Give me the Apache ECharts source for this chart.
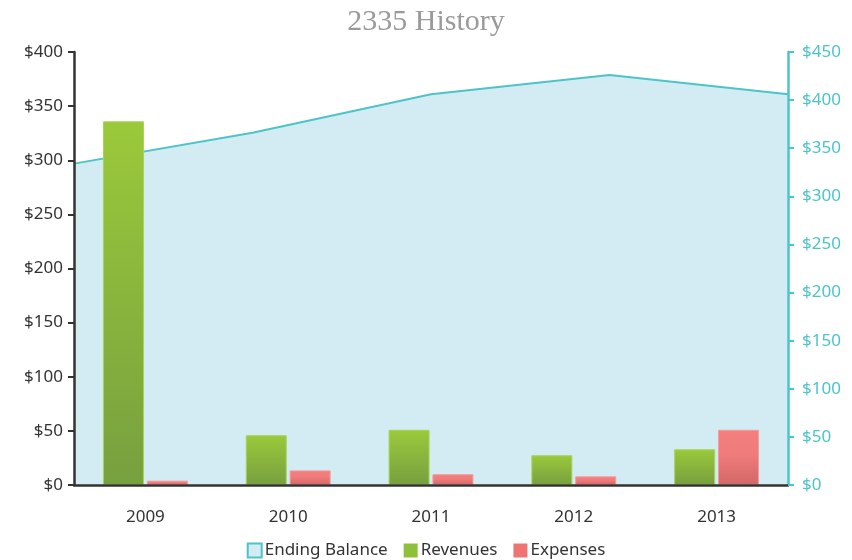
<!DOCTYPE html>
<html>
<head>
<meta charset="utf-8">
<script src="https://cdn.jsdelivr.net/npm/echarts@6/dist/echarts.min.js"></script>
<style>
  html, body { margin: 0; padding: 0; background: #fff; }
  #chart { width: 852px; height: 560px; }
</style>
</head>
<body>
<div id="chart"></div>
<script>
const years = ['2009', '2010', '2011', '2012', '2013']
const revenues = [336, 46, 51, 27.5, 33]
const expenses = [4, 13.5, 10, 8, 51]
const endingBalance = [334, 366, 406, 426, 406]

const teal = '#4cc4c8'
const dark = '#333333'

function money(v) {
    return '$' + v
}

let chart = echarts.init(document.getElementById('chart'))

let option = {
    animation: false,
    title: {
        text: '2335 History',
        left: 'center',
        top: 2,
        textStyle: {
            fontFamily: 'Liberation Serif',
            fontWeight: 'normal',
            fontSize: 30,
            color: '#9a9a9a'
        }
    },
    legend: {
        bottom: -4,
        left: 'center',
        itemWidth: 14,
        itemHeight: 14,
        itemGap: 16,
        textStyle: { fontFamily: 'Noto Sans', fontSize: 17, color: dark, padding: [0, 0, 0, -2] },
        data: [
            { name: 'Ending Balance', icon: 'rect', itemStyle: { color: '#d3ecf3', borderColor: teal, borderWidth: 2 } },
            { name: 'Revenues', icon: 'rect', itemStyle: { color: '#8fc03a', borderWidth: 0 } },
            { name: 'Expenses', icon: 'rect', itemStyle: { color: '#ee7474', borderWidth: 0 } }
        ]
    },
    grid: { left: 74, right: 64, top: 52, bottom: 75 },
    xAxis: [
        {
            type: 'category',
            data: years,
            z: 10,
            axisLine: { lineStyle: { color: dark, width: 2.5 } },
            axisTick: { show: false },
            axisLabel: { fontFamily: 'Noto Sans', fontSize: 17, color: dark, margin: 24 }
        },
        {
            type: 'category',
            data: years,
            boundaryGap: false,
            position: 'top',
            show: false
        }
    ],
    yAxis: [
        {
            type: 'value',
            min: 0,
            max: 400,
            interval: 50,
            z: 10,
            axisLine: { show: true, lineStyle: { color: dark, width: 2.5 } },
            axisTick: { show: true, length: 6, lineStyle: { color: dark, width: 2 } },
            splitLine: { show: false },
            axisLabel: { fontFamily: 'Noto Sans', fontSize: 17, color: dark, margin: 11, formatter: money }
        },
        {
            type: 'value',
            min: 0,
            max: 450,
            interval: 50,
            position: 'right',
            z: 10,
            axisLine: { show: true, lineStyle: { color: teal, width: 2.5 } },
            axisTick: { show: true, length: 6, lineStyle: { color: teal, width: 2 } },
            splitLine: { show: false },
            axisLabel: { fontFamily: 'Noto Sans', fontSize: 17, color: teal, margin: 14, formatter: money }
        }
    ],
    series: [
        {
            name: 'Ending Balance',
            type: 'line',
            xAxisIndex: 1,
            yAxisIndex: 1,
            data: endingBalance,
            symbol: 'none',
            z: 1,
            lineStyle: { color: teal, width: 2 },
            itemStyle: { color: teal },
            areaStyle: { color: '#d3ecf3', opacity: 1 }
        },
        {
            name: 'Revenues',
            type: 'bar',
            data: revenues,
            barWidth: 41,
            barGap: '7%',
            z: 3,
            itemStyle: {
                color: new echarts.graphic.LinearGradient(0, 0, 0, 1, [
                    { offset: 0, color: '#9bc93b' },
                    { offset: 1, color: '#77a03f' }
                ]),
                borderColor: '#a9d455',
                borderWidth: 1
            }
        },
        {
            name: 'Expenses',
            type: 'bar',
            data: expenses,
            barWidth: 41,
            z: 3,
            itemStyle: {
                color: new echarts.graphic.LinearGradient(0, 0, 0, 1, [
                    { offset: 0, color: '#f47f7f' },
                    { offset: 0.45, color: '#f07b7b' },
                    { offset: 1, color: '#d26767' }
                ]),
                borderColor: '#f79a9a',
                borderWidth: 1
            }
        }
    ]
}

chart.setOption(option)
</script>
</body>
</html>
